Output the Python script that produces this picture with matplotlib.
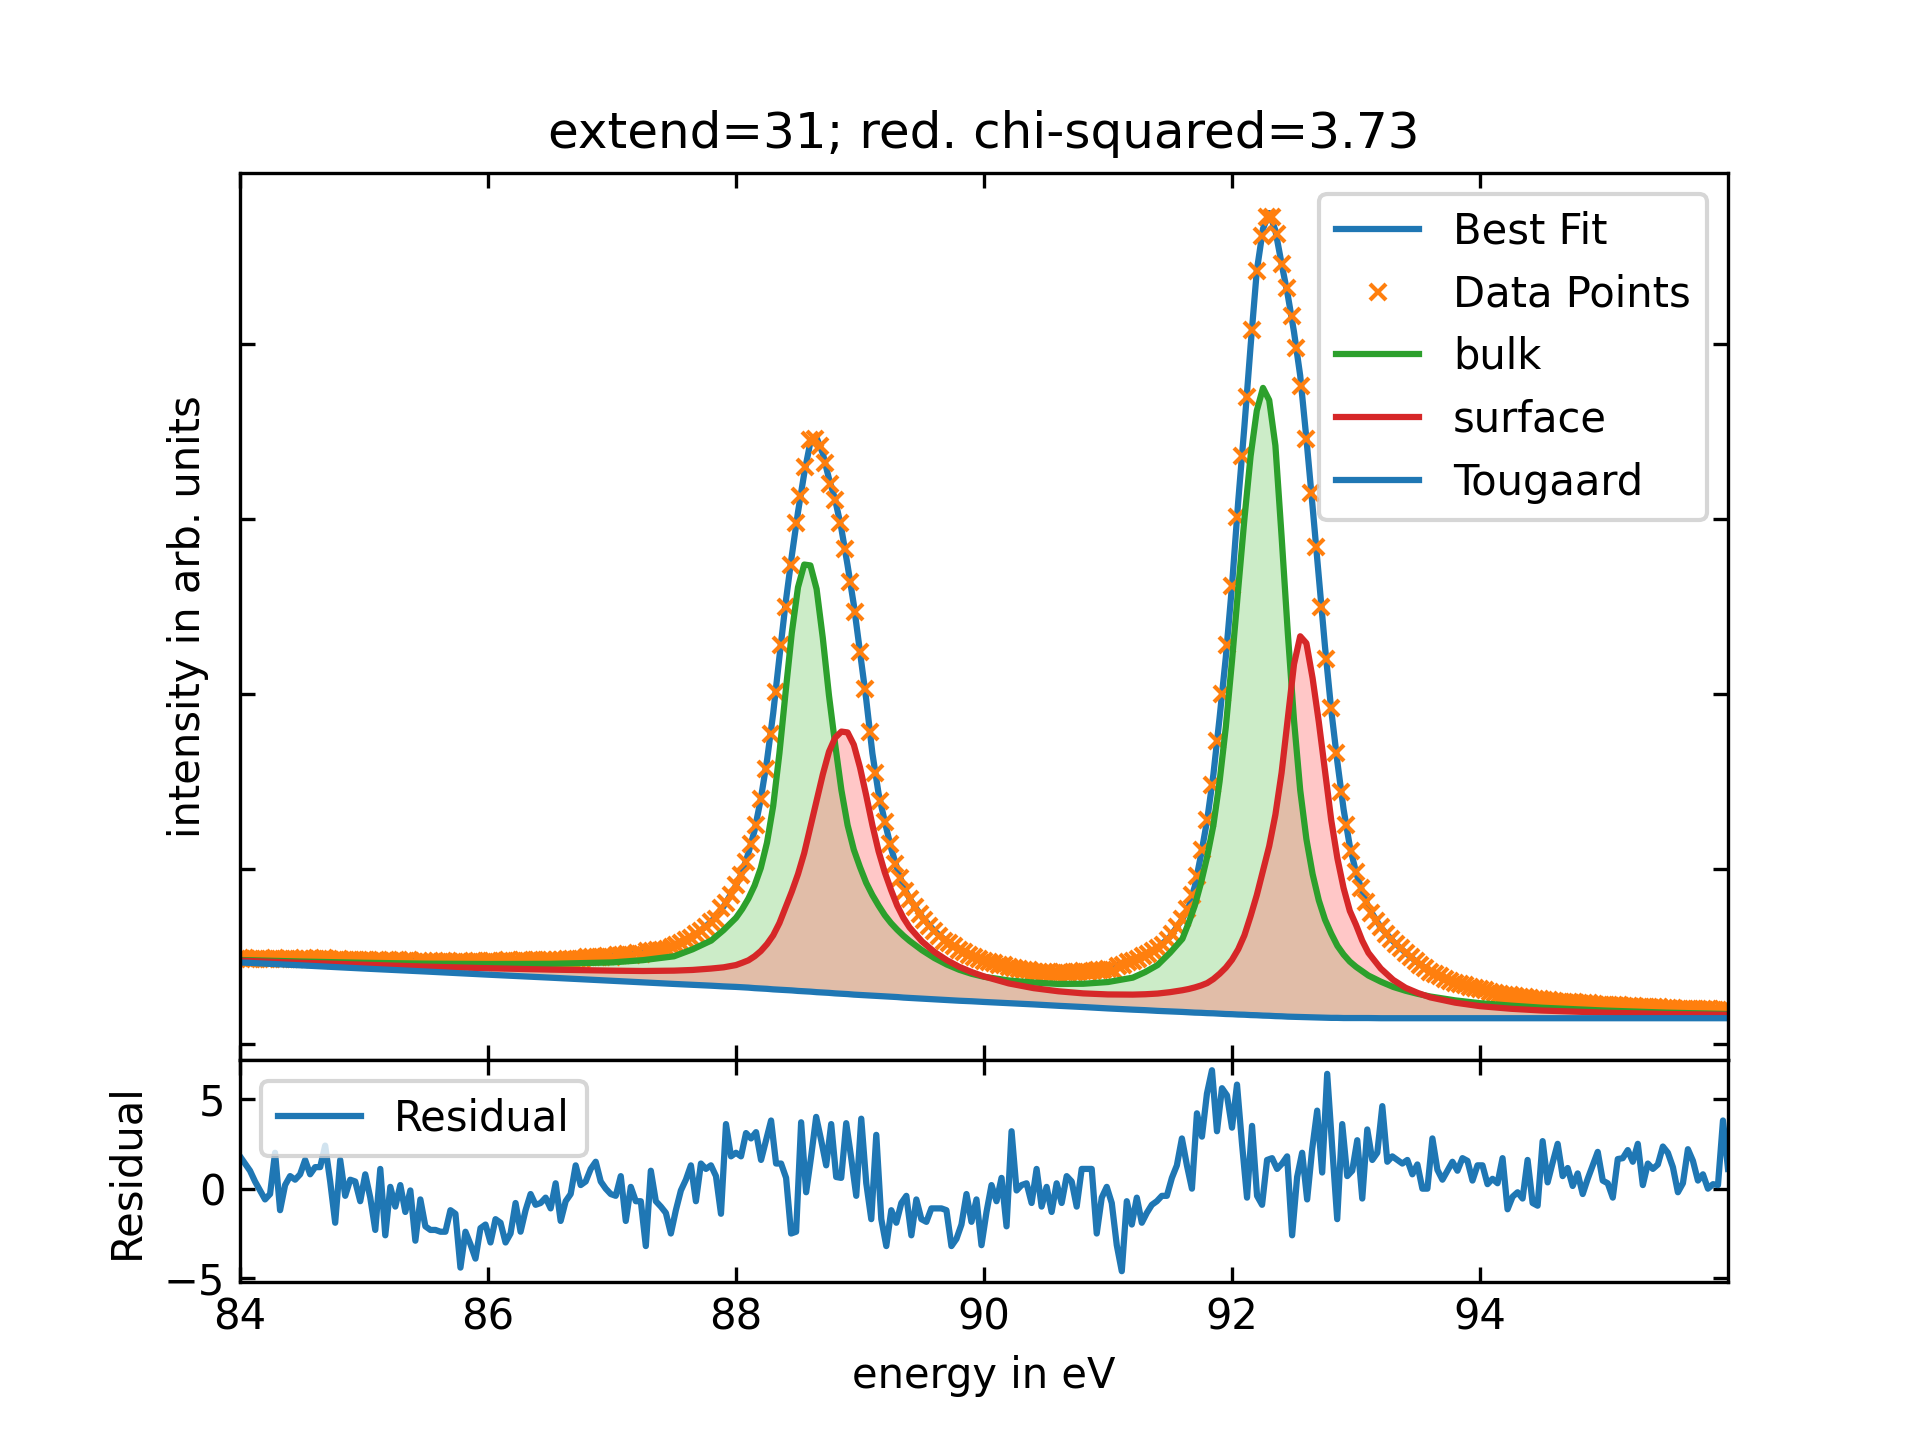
"""
XPS fit with bulk / surface components and Tougaard background,
plus the fit residual underneath.
"""

import numpy as np
import matplotlib
matplotlib.use("Agg")
import matplotlib.pyplot as plt


# ============================================================
# Data
# ============================================================
# measured spectrum, 0.04 eV steps from 84 to 96 eV
intensity = [
    0.490, 0.488, 0.487, 0.485, 0.484, 0.483, 0.484, 0.489, 0.482, 0.485,
    0.487, 0.486, 0.487, 0.489, 0.486, 0.487, 0.487, 0.490, 0.483, 0.478,
    0.484, 0.479, 0.481, 0.480, 0.477, 0.481, 0.477, 0.472, 0.481, 0.471,
    0.478, 0.475, 0.478, 0.474, 0.477, 0.469, 0.475, 0.471, 0.470, 0.470,
    0.470, 0.473, 0.473, 0.465, 0.470, 0.468, 0.466, 0.471, 0.472, 0.469,
    0.473, 0.472, 0.470, 0.472, 0.477, 0.472, 0.476, 0.478, 0.476, 0.477,
    0.478, 0.477, 0.481, 0.476, 0.479, 0.481, 0.485, 0.483, 0.484, 0.487,
    0.494, 0.497, 0.497, 0.498, 0.503, 0.498, 0.510, 0.510, 0.513, 0.509,
    0.520, 0.512, 0.530, 0.530, 0.535, 0.538, 0.540, 0.552, 0.563, 0.575,
    0.592, 0.603, 0.627, 0.647, 0.668, 0.695, 0.715, 0.775, 0.805, 0.850,
    0.910, 0.965, 1.040, 1.140, 1.250, 1.400, 1.570, 1.770, 2.010, 2.280,
    2.500, 2.740, 2.980, 3.130, 3.300, 3.450, 3.460, 3.420, 3.320, 3.200,
    3.110, 2.980, 2.830, 2.640, 2.470, 2.240, 2.030, 1.780, 1.550, 1.390,
    1.270, 1.140, 1.030, 0.950, 0.875, 0.830, 0.780, 0.740, 0.710, 0.675,
    0.645, 0.615, 0.590, 0.575, 0.560, 0.535, 0.522, 0.510, 0.495, 0.487,
    0.475, 0.467, 0.460, 0.448, 0.452, 0.440, 0.435, 0.430, 0.424, 0.424,
    0.413, 0.412, 0.408, 0.410, 0.406, 0.407, 0.408, 0.404, 0.409, 0.410,
    0.414, 0.410, 0.418, 0.422, 0.424, 0.425, 0.424, 0.446, 0.450, 0.465,
    0.475, 0.487, 0.500, 0.515, 0.530, 0.545, 0.565, 0.595, 0.630, 0.670,
    0.715, 0.770, 0.850, 0.960, 1.110, 1.280, 1.480, 1.730, 2.000, 2.280,
    2.620, 3.010, 3.360, 3.700, 4.080, 4.420, 4.620, 4.730, 4.730, 4.630,
    4.460, 4.320, 4.160, 3.980, 3.760, 3.460, 3.150, 2.840, 2.500, 2.200,
    1.920, 1.660, 1.440, 1.250, 1.100, 0.980, 0.890, 0.810, 0.750, 0.700,
    0.665, 0.630, 0.600, 0.570, 0.545, 0.520, 0.495, 0.472, 0.452, 0.435,
    0.412, 0.398, 0.385, 0.372, 0.360, 0.350, 0.342, 0.335, 0.325, 0.320,
    0.311, 0.306, 0.298, 0.292, 0.285, 0.279, 0.277, 0.271, 0.266, 0.265,
    0.259, 0.257, 0.256, 0.250, 0.249, 0.246, 0.241, 0.240, 0.237, 0.236,
    0.232, 0.232, 0.231, 0.229, 0.224, 0.224, 0.220, 0.221, 0.219, 0.218,
    0.217, 0.214, 0.212, 0.212, 0.210, 0.208, 0.209, 0.205, 0.204, 0.204,
    0.200, 0.201, 0.200, 0.198, 0.197, 0.196, 0.196, 0.195, 0.194, 0.198,
    0.194,
]

# fit model, sampled on its own energy grid
model_energy = [
    84.0, 84.5, 85.0, 85.5, 86.0, 86.5, 87.0, 87.25, 87.5, 87.65, 87.8, 87.9,
    88.0, 88.05, 88.1, 88.15, 88.2, 88.25, 88.3, 88.35, 88.4, 88.45,
    88.5, 88.55, 88.6, 88.65, 88.7, 88.75, 88.8, 88.85, 88.9, 88.95,
    89.0, 89.05, 89.1, 89.15, 89.2, 89.25, 89.3, 89.35, 89.4,
    89.5, 89.6, 89.7, 89.8, 89.9, 90.0,
    90.2, 90.4, 90.6, 90.8, 91.0, 91.2,
    91.3, 91.4, 91.5, 91.6,
    91.65, 91.7, 91.75, 91.8, 91.85, 91.9, 91.95, 92.0, 92.05, 92.1,
    92.15, 92.2, 92.25, 92.3, 92.35, 92.4, 92.45, 92.5, 92.55, 92.6,
    92.65, 92.7, 92.75, 92.8, 92.85, 92.9, 92.95, 93.0, 93.05, 93.1,
    93.2, 93.3, 93.4, 93.5, 93.6,
    93.8, 94.0, 94.25, 94.5, 95.0, 95.5, 96.0,
]

best_fit = [
    0.487, 0.482, 0.478, 0.476, 0.478, 0.485, 0.505, 0.525, 0.558, 0.609, 0.698, 0.785,
    0.905, 0.980, 1.090, 1.220, 1.400, 1.620, 1.890, 2.210, 2.520, 2.790,
    3.040, 3.260, 3.440, 3.465, 3.375, 3.230, 3.110, 2.945, 2.735, 2.510,
    2.240, 1.970, 1.660, 1.430, 1.270, 1.120, 1.000, 0.900, 0.830,
    0.725, 0.645, 0.585, 0.537, 0.502, 0.475,
    0.440, 0.412, 0.407, 0.414, 0.432, 0.478,
    0.505, 0.548, 0.612, 0.713,
    0.780, 0.900, 1.080, 1.280, 1.540, 1.865, 2.210, 2.620, 3.100, 3.530,
    3.990, 4.420, 4.660, 4.750, 4.650, 4.460, 4.280, 4.070, 3.820, 3.460,
    3.070, 2.670, 2.270, 1.910, 1.610, 1.340, 1.130, 0.980, 0.870, 0.780,
    0.665, 0.585, 0.520, 0.462, 0.414,
    0.350, 0.311, 0.279, 0.256, 0.228, 0.207, 0.195,
]

bulk = [
    0.479, 0.470, 0.463, 0.458, 0.456, 0.457, 0.465, 0.478, 0.500, 0.540, 0.590, 0.650,
    0.720, 0.770, 0.830, 0.905, 1.005, 1.150, 1.360, 1.660, 2.010, 2.350,
    2.610, 2.740, 2.735, 2.600, 2.320, 1.990, 1.710, 1.450, 1.250, 1.110,
    1.010, 0.920, 0.850, 0.790, 0.735, 0.690, 0.652, 0.618, 0.588,
    0.535, 0.490, 0.453, 0.423, 0.400, 0.383,
    0.362, 0.350, 0.342, 0.343, 0.353, 0.378,
    0.410, 0.450, 0.520, 0.600,
    0.690, 0.790, 0.920, 1.070, 1.250, 1.500, 1.810, 2.190, 2.600, 3.000,
    3.360, 3.620, 3.750, 3.680, 3.420, 2.900, 2.350, 1.850, 1.450, 1.170,
    0.970, 0.820, 0.710, 0.630, 0.560, 0.510, 0.470, 0.440, 0.415, 0.390,
    0.355, 0.325, 0.303, 0.285, 0.270,
    0.248, 0.232, 0.218, 0.206, 0.190, 0.178, 0.170,
]

surface = [
    0.475, 0.463, 0.452, 0.441, 0.432, 0.424, 0.418, 0.416, 0.418, 0.422, 0.430, 0.437,
    0.450, 0.463, 0.477, 0.500, 0.530, 0.570, 0.620, 0.690, 0.780, 0.870,
    0.970, 1.090, 1.240, 1.390, 1.540, 1.670, 1.750, 1.785, 1.780, 1.710,
    1.580, 1.420, 1.250, 1.100, 0.980, 0.880, 0.790, 0.720, 0.665,
    0.585, 0.525, 0.478, 0.440, 0.410, 0.385,
    0.345, 0.318, 0.300, 0.288, 0.282, 0.281,
    0.283, 0.287, 0.295, 0.306,
    0.313, 0.322, 0.333, 0.347, 0.370, 0.400, 0.435, 0.480, 0.540, 0.620,
    0.730, 0.850, 0.990, 1.130, 1.310, 1.550, 1.860, 2.170, 2.330, 2.290,
    2.090, 1.840, 1.560, 1.280, 1.060, 0.890, 0.760, 0.680, 0.590, 0.520,
    0.430, 0.365, 0.320, 0.290, 0.265,
    0.235, 0.215, 0.200, 0.190, 0.178, 0.170, 0.166,
]

tougaard = [
    0.465, 0.448, 0.430, 0.413, 0.395, 0.378, 0.360, 0.351, 0.342, 0.337, 0.332, 0.328,
    0.325, 0.323, 0.321, 0.318, 0.316, 0.314, 0.311, 0.309, 0.307, 0.305,
    0.302, 0.300, 0.298, 0.295, 0.293, 0.291, 0.288, 0.286, 0.284, 0.281,
    0.279, 0.277, 0.275, 0.273, 0.271, 0.269, 0.267, 0.264, 0.262,
    0.258, 0.254, 0.250, 0.246, 0.243, 0.239,
    0.232, 0.225, 0.217, 0.210, 0.202, 0.195,
    0.192, 0.188, 0.185, 0.182,
    0.180, 0.178, 0.177, 0.175, 0.174, 0.172, 0.170, 0.169, 0.167, 0.166,
    0.164, 0.163, 0.161, 0.160, 0.158, 0.157, 0.155, 0.154, 0.153, 0.152,
    0.151, 0.150, 0.149, 0.148, 0.148, 0.147, 0.147, 0.147, 0.147, 0.147,
    0.146, 0.146, 0.146, 0.146, 0.146,
    0.146, 0.146, 0.146, 0.146, 0.146, 0.146, 0.146,
]

# fit residual over the same 84 - 96 eV window
residual = [
    1.8, 1.4, 1.0, 0.4, -0.1, -0.6, -0.3, 2.0, -1.2, 0.2,
    0.7, 0.5, 0.8, 1.6, 0.8, 1.2, 1.2, 2.4, 0.4, -1.9,
    1.6, -0.4, 0.5, 0.4, -0.7, 0.8, -0.5, -2.3, 1.1, -2.6,
    0.1, -1.0, 0.2, -1.3, -0.1, -2.9, -0.6, -2.1, -2.3, -2.3,
    -2.4, -2.4, -1.2, -1.4, -4.4, -2.4, -3.1, -3.9, -2.2, -2.0,
    -3.0, -1.7, -1.9, -3.0, -2.5, -0.8, -2.4, -1.2, -0.3, -0.9,
    -0.8, -0.5, -1.1, 0.3, -1.8, -0.7, -0.3, 1.3, 0.2, 0.4,
    1.1, 1.5, 0.4, 0.0, -0.3, -0.4, 0.7, -1.8, 0.1, -0.7,
    -0.7, -3.2, 1.0, -0.7, -1.0, -1.35, -2.5, -1.2, -0.1, 0.5,
    1.3, -0.7, 1.4, 1.1, 1.3, 0.7, -1.4, 3.6, 1.8, 2.0,
    1.8,
    3.1, 2.8, 3.15, 1.6, 2.7, 3.8, 1.4, 1.4, 0.6, -2.5,
    -2.4, 3.7, -0.2, 1.8, 4.0, 2.7, 1.3, 3.6, 0.65, 0.6,
    3.65, 1.7, -0.4, 3.9, 0.3, -1.7, 3.0, -1.7, -3.2, -1.2,
    -1.9, -0.8, -0.4, -2.6, -0.6, -1.7, -1.85, -1.1, -1.1, -1.1,
    -1.2, -3.2, -2.8, -2.0, -0.3, -1.85, -0.6, -3.15, -1.3, 0.2,
    -0.7, 0.6, -2.1, 3.2, -0.1, 0.2, 0.3, -0.8, 1.1, -1.0,
    0.1, -1.3, 0.3, -0.8, 0.7, 0.4, -1.0, 1.1, 1.1, 1.1,
    -2.5, -0.5, 0.1, -0.8, -3.15, -4.6, -0.7, -2.0, -0.5, -1.9,
    -1.35, -0.9, -0.7, -0.4, -0.4, 0.6, 1.3, 2.8, 1.3, 0.0,
    4.2, 2.9, 5.3, 6.6, 3.2, 5.6, 5.2, 3.4, 5.8, 2.5,
    -0.5, 3.5,
    -0.4, -0.9, 1.6, 1.7, 1.1, 1.4, 1.8, -2.6, 0.65, 2.0,
    -0.6, 2.2, 4.35, 0.9, 6.4, 2.3, -1.7, 3.6, 0.7, 1.0,
    2.7, -0.55, 3.3, 1.6, 2.0, 4.6, 1.5, 1.8, 1.6, 1.4,
    1.6, 0.8, 1.35, 0.0, 0.0, 2.8, 1.05, 0.5, 1.0, 1.5,
    1.0, 1.7, 1.55, 0.45, 1.3, 1.3, 0.25, 0.55, 0.3, 1.7,
    -1.15, -0.45, -0.2, -0.55, 1.6, -0.8, -0.95, 2.65, 0.35, 1.45,
    2.5, 0.7, 1.15, 0.15, 0.85, -0.3, 0.55, 1.3, 2.05, 0.45,
    0.3, -0.5, 1.65, 1.7, 2.15, 1.5, 2.5, 0.2, 1.4, 1.1,
    1.35, 2.35, 2.0, 1.2, -0.2, 0.3, 2.2, 1.55, 0.45, 0.8,
    0.0, 0.25, 0.2, 3.8, 1.1,
]

e_min, e_max = 84.0, 96.0
energy = np.linspace(e_min, e_max, len(intensity))
res_energy = np.linspace(e_min, e_max, len(residual))


# ============================================================
# Plot
# ============================================================
fig, (ax, ax_res) = plt.subplots(
    2, 1, figsize=(6.4, 4.8), sharex=True,
    gridspec_kw=dict(height_ratios=[4, 1], hspace=0),
)

ax.plot(model_energy, best_fit, color="C0", label="Best Fit")
ax.plot(energy, intensity, "x", color="C1", ms=4, label="Data Points")
ax.plot(model_energy, bulk, color="C2", label="bulk")
ax.fill_between(model_energy, tougaard, bulk, color="#ccecc8", lw=0)
ax.plot(model_energy, surface, color="C3", label="surface")
ax.fill_between(model_energy, tougaard, surface, color="#ff7f7f", alpha=0.43, lw=0)
ax.plot(model_energy, tougaard, color="C0", label="Tougaard")

ax.set_title("extend=31; red. chi-squared=3.73")
ax.set_ylabel("intensity in arb. units")
ax.set_ylim(-0.092, 4.98)
ax.set_yticks([0, 1, 2, 3, 4])
ax.set_yticklabels([])
ax.legend(loc="upper right")
ax.tick_params(direction="in", top=True, right=True)

ax_res.plot(res_energy, residual, color="C0", label="Residual")
ax_res.set_ylabel("Residual")
ax_res.set_xlabel("energy in eV")
ax_res.set_ylim(-5.18, 7.18)
ax_res.set_yticks([-5, 0, 5])
ax_res.set_xlim(e_min, e_max)
ax_res.set_xticks([84, 86, 88, 90, 92, 94])
ax_res.legend(loc="upper left")
ax_res.tick_params(direction="in", top=True, right=True)

fig.savefig("out.png", dpi=300)
plt.close(fig)
